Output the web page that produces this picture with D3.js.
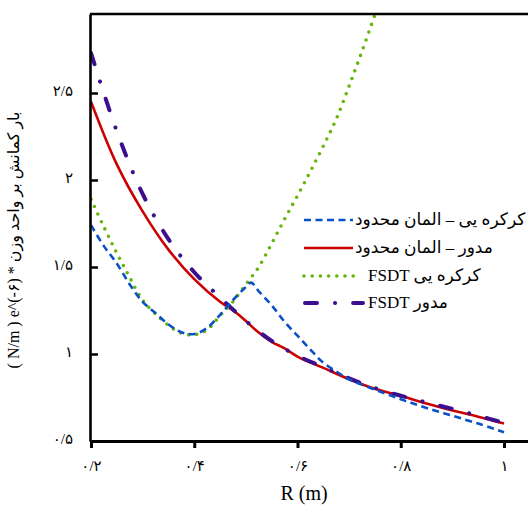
<!DOCTYPE html>
<html>
<head>
<meta charset="utf-8">
<script src="https://cdn.jsdelivr.net/npm/d3@7"></script>
<style>
  html, body { margin: 0; padding: 0; background: #fff; }
  svg { display: block; }
</style>
</head>
<body>
<div id="chart"></div>
<script>
// R (m) sample positions per series and buckling load values (e^-6 N/m)
const rFemShutter = [0.20, 0.225, 0.25, 0.275, 0.30, 0.325, 0.35, 0.375, 0.40, 0.425, 0.45, 0.475, 0.50, 0.51, 0.525, 0.55, 0.575, 0.60, 0.625, 0.65, 0.675, 0.70, 0.75, 0.80, 0.85, 0.90, 0.95, 1.00];
const femShutter = [1.74, 1.62, 1.52, 1.40, 1.30, 1.235, 1.17, 1.125, 1.115, 1.15, 1.225, 1.31, 1.385, 1.41, 1.36, 1.28, 1.185, 1.105, 1.025, 0.95, 0.90, 0.855, 0.795, 0.74, 0.69, 0.645, 0.60, 0.55];

const rFemRound = [0.20, 0.25, 0.30, 0.35, 0.40, 0.45, 0.48, 0.50, 0.52, 0.55, 0.575, 0.60, 0.65, 0.70, 0.75, 0.80, 0.85, 0.90, 0.95, 1.00];
const femRound = [2.45, 2.09, 1.82, 1.60, 1.43, 1.30, 1.24, 1.19, 1.135, 1.07, 1.032, 0.985, 0.92, 0.855, 0.80, 0.76, 0.715, 0.675, 0.64, 0.60];

const rFsdtShutter = [0.20, 0.225, 0.25, 0.275, 0.30, 0.325, 0.35, 0.375, 0.40, 0.425, 0.45, 0.475, 0.50, 0.525, 0.55, 0.575, 0.60, 0.625, 0.65, 0.675, 0.70, 0.725, 0.75];
const fsdtShutter = [1.89, 1.73, 1.58, 1.44, 1.31, 1.23, 1.165, 1.12, 1.11, 1.14, 1.22, 1.30, 1.40, 1.50, 1.635, 1.775, 1.91, 2.05, 2.195, 2.35, 2.54, 2.74, 2.95];

const rFsdtRound = [0.20, 0.25, 0.30, 0.35, 0.40, 0.45, 0.50, 0.55, 0.60, 0.65, 0.70, 0.75, 0.80, 0.85, 0.90, 0.95, 1.00];
const fsdtRound = [2.73, 2.28, 1.92, 1.66, 1.47, 1.325, 1.19, 1.075, 0.99, 0.925, 0.86, 0.805, 0.76, 0.722, 0.685, 0.645, 0.605];

const xTicks = [0.2, 0.4, 0.6, 0.8, 1];
const xTickLabels = ["۰/۲", "۰/۴", "۰/۶", "۰/۸", "۱"];
const yTicks = [0.5, 1, 1.5, 2, 2.5];
const yTickLabels = ["۰/۵", "۱", "۱/۵", "۲", "۲/۵"];

const legendLabels = ["کرکره یی – المان محدود", "مدور – المان محدود", "FSDT کرکره یی", "FSDT مدور"];

const width = 528, height = 506;
const margin = {top: 14, right: 0, bottom: 65, left: 90};
const serif = "'Liberation Serif', 'Times New Roman', 'DejaVu Sans', serif";

const x = d3.scaleLinear().domain([0.2, 1.0465]).range([margin.left + 1, width]);
const y = d3.scaleLinear().domain([0.5, 2.954]).range([height - margin.bottom, margin.top]);

const svg = d3.create("svg")
    .attr("width", width)
    .attr("height", height)
    .attr("viewBox", [0, 0, width, height]);

svg.append("defs").append("clipPath").attr("id", "plot-clip")
  .append("rect")
    .attr("x", margin.left)
    .attr("y", margin.top)
    .attr("width", width - margin.left)
    .attr("height", height - margin.bottom - margin.top);

const series = [
  {r: rFemRound, v: femRound, color: "#cc0000", w: 2.6, dash: null, cap: "butt"},
  {r: rFsdtRound, v: fsdtRound, color: "#3c0f8f", w: 4, dash: "12,18,0.1,18", cap: "round"},
  {r: rFsdtShutter, v: fsdtShutter, color: "#66b50a", w: 3.6, dash: "0,8.2", cap: "round"},
  {r: rFemShutter, v: femShutter, color: "#0a50c8", w: 2.6, dash: "7,4.5", cap: "butt"}
];

const line = d3.line()
    .x(d => x(d[0]))
    .y(d => y(d[1]))
    .curve(d3.curveCatmullRom.alpha(0.5));

const plot = svg.append("g").attr("clip-path", "url(#plot-clip)");
series.forEach(s => {
  plot.append("path")
      .datum(d3.zip(s.r, s.v))
      .attr("fill", "none")
      .attr("stroke", s.color)
      .attr("stroke-width", s.w)
      .attr("stroke-linecap", s.cap)
      .attr("stroke-linejoin", "round")
      .attr("stroke-dasharray", s.dash)
      .attr("d", line);
});

// frame: top line, left axis, bottom axis
svg.append("line")
    .attr("x1", margin.left).attr("x2", width)
    .attr("y1", margin.top).attr("y2", margin.top)
    .attr("stroke", "#000").attr("stroke-width", 2.5);

const xAxis = svg.append("g")
    .attr("transform", `translate(0,${height - margin.bottom})`)
    .call(d3.axisBottom(x).tickValues(xTicks).tickSize(7).tickSizeOuter(0)
      .tickFormat((d, i) => xTickLabels[i]));
xAxis.select(".domain").attr("stroke-width", 3);
xAxis.selectAll(".tick line").attr("stroke-width", 3);
xAxis.selectAll(".tick text")
    .attr("dy", 0)
    .attr("y", 30)
    .attr("font-family", serif)
    .attr("font-size", 15)
    .attr("fill", "#000");

const yAxis = svg.append("g")
    .attr("transform", `translate(${margin.left},0)`)
    .call(d3.axisRight(y).tickValues(yTicks).tickSize(8).tickSizeOuter(0)
      .tickFormat((d, i) => yTickLabels[i]));
yAxis.select(".domain").attr("stroke-width", 2.6);
yAxis.selectAll(".tick line").attr("stroke-width", 2.5);
yAxis.selectAll(".tick text")
    .attr("x", -17)
    .attr("dy", "0.15em")
    .attr("text-anchor", "end")
    .attr("font-family", serif)
    .attr("font-size", 15)
    .attr("fill", "#000");
yAxis.selectAll(".tick").filter(d => d === 0.5).select("line").remove();

// axis titles
svg.append("text")
    .attr("x", 304).attr("y", 500)
    .attr("text-anchor", "middle")
    .attr("font-family", serif)
    .attr("font-size", 20)
    .text("R (m)");

svg.append("text")
    .attr("transform", "translate(19,240) rotate(-90)")
    .attr("text-anchor", "middle")
    .attr("direction", "ltr")
    .attr("font-family", serif)
    .attr("font-size", 16)
    .text("( N/m ) e^(-۶) * بار کمانش بر واحد وزن");

// legend
const legend = svg.append("g");
const legendRows = [220, 248, 276, 303];
const legendOrder = [3, 0, 2, 1];
legendOrder.forEach((si, i) => {
  const s = series[si];
  const g = legend.append("g").attr("transform", `translate(0,${legendRows[i]})`);
  g.append("line")
      .attr("x1", si === 1 ? 305 : 304)
      .attr("x2", si === 1 ? 363 : (si === 2 ? 357 : 353))
      .attr("stroke", s.color)
      .attr("stroke-width", s.w)
      .attr("stroke-linecap", s.cap)
      .attr("stroke-dasharray", s.dash);
  g.append("text")
      .attr("x", si === 1 || si === 2 ? 368 : 355)
      .attr("y", 5)
      .attr("direction", "ltr")
      .attr("font-family", serif)
      .attr("font-size", 17)
      .text(legendLabels[i]);
});

d3.select("#chart").append(() => svg.node());
</script>
</body>
</html>
